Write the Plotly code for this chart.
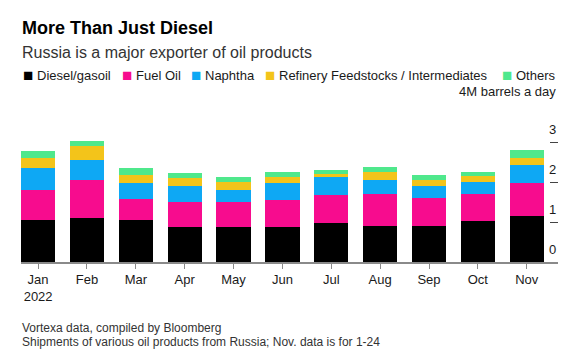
import plotly.graph_objects as go

months = ["Jan<br>2022", "Feb", "Mar", "Apr", "May", "Jun", "Jul", "Aug", "Sep", "Oct", "Nov"]
diesel = [1.06, 1.10, 1.04, 0.87, 0.87, 0.87, 0.97, 0.91, 0.89, 1.02, 1.14]
fuel_oil = [0.75, 0.96, 0.54, 0.62, 0.62, 0.68, 0.70, 0.79, 0.70, 0.68, 0.84]
naphtha = [0.54, 0.50, 0.40, 0.40, 0.32, 0.42, 0.46, 0.36, 0.32, 0.31, 0.45]
feedstocks = [0.25, 0.33, 0.20, 0.21, 0.18, 0.16, 0.07, 0.20, 0.15, 0.15, 0.17]
others = [0.17, 0.13, 0.16, 0.12, 0.14, 0.12, 0.09, 0.12, 0.12, 0.08, 0.21]

series_names = ["Diesel/gasoil", "Fuel Oil", "Naphtha", "Refinery Feedstocks / Intermediates", "Others"]
series_values = [diesel, fuel_oil, naphtha, feedstocks, others]
colors = ["#000000", "#f70c8e", "#0ea8f4", "#f3c41a", "#4fe88c"]

y_tickvals = [0, 1, 2, 3, 4]
y_ticktext = ["0", "1", "2", "3", "4M barrels a day"]

FONT = "Liberation Sans, Arial, sans-serif"

fig = go.Figure()
for name, vals, col in zip(series_names, series_values, colors):
    fig.add_trace(go.Bar(x=months, y=vals, name=name, marker=dict(color=col, line=dict(width=0)),
                         showlegend=False))

W, H = 581, 364
ml, mr, mt, mb = 21, 23, 102, 102
pw = W - ml - mr
ph = H - mt - mb

def px_x(px):
    return (px - ml) / pw

def px_y(py):
    return (H - mb - py) / ph

annotations = [
    dict(text="<b>More Than Just Diesel</b>", x=px_x(20), y=px_y(28), xref="paper", yref="paper",
         xanchor="left", yanchor="middle", showarrow=False, font=dict(size=18, color="#000", family=FONT)),
    dict(text="Russia is a major exporter of oil products", x=px_x(20), y=px_y(52), xref="paper", yref="paper",
         xanchor="left", yanchor="middle", showarrow=False, font=dict(size=16, color="#333", family=FONT)),
    dict(text="Vortexa data, compiled by Bloomberg", x=px_x(20), y=px_y(328), xref="paper", yref="paper",
         xanchor="left", yanchor="middle", showarrow=False, font=dict(size=12, color="#333", family=FONT)),
    dict(text="Shipments of various oil products from Russia; Nov. data is for 1-24", x=px_x(20), y=px_y(342),
         xref="paper", yref="paper", xanchor="left", yanchor="middle", showarrow=False,
         font=dict(size=12, color="#333", family=FONT)),
]

# y tick labels above their tick marks (right-aligned to the axis end)
for v, t in zip(y_tickvals, y_ticktext):
    shift = 11 if v == 4 else 12.5
    annotations.append(dict(text=t, x=1.0, y=v, xref="paper", yref="y", xanchor="right", yanchor="middle",
                            yshift=shift, showarrow=False, font=dict(size=13, color="#1a1a1a", family=FONT)))

legend_sq_x = [21, 120, 189, 263, 500]
legend_tx_x = [35, 134, 203, 277, 514]
legend_y = 75
for name, col, sx, tx in zip(series_names, colors, legend_sq_x, legend_tx_x):
    annotations.append(dict(text="■", x=px_x(sx), y=px_y(legend_y), xref="paper", yref="paper",
                            xanchor="left", yanchor="middle", showarrow=False,
                            font=dict(size=17, color=col, family=FONT)))
    annotations.append(dict(text=name, x=px_x(tx), y=px_y(legend_y), xref="paper", yref="paper",
                            xanchor="left", yanchor="middle", showarrow=False,
                            font=dict(size=13, color="#1a1a1a", family=FONT)))

fig.update_layout(
    width=W, height=H,
    margin=dict(l=ml, r=mr, t=mt, b=mb, pad=0, autoexpand=False),
    barmode="stack",
    bargap=0.3,
    plot_bgcolor="white",
    paper_bgcolor="white",
    font=dict(family=FONT, size=13, color="#1a1a1a"),
    annotations=annotations,
    xaxis=dict(
        range=[-0.35, 10.64],
        showgrid=False, zeroline=False,
        showline=True, linecolor="#8a8a8a", linewidth=1.5,
        ticks="outside", ticklen=5, tickcolor="#8a8a8a", tickwidth=1,
        tickfont=dict(size=13, color="#1a1a1a"),
        automargin=False,
        fixedrange=True,
    ),
    yaxis=dict(
        range=[0, 4],
        side="right",
        showgrid=False, zeroline=False, showline=False,
        tickvals=y_tickvals,
        ticks="inside", ticklen=8, tickcolor="#444", tickwidth=1,
        showticklabels=False,
        automargin=False,
        fixedrange=True,
    ),
)

fig.write_html("out.html", config={"displayModeBar": False},
               post_script="document.body.style.margin='0';document.body.style.overflow='hidden';")
